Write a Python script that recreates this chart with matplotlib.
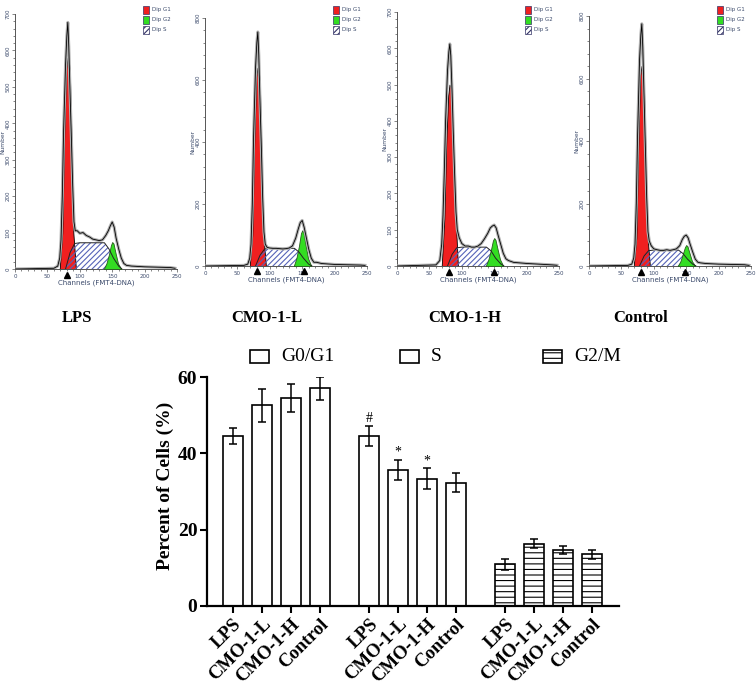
import matplotlib
matplotlib.use("Agg")
import matplotlib.pyplot as plt
from matplotlib.patches import Rectangle
from matplotlib.ticker import MultipleLocator

W, H = 756, 691

# ── flow cytometry histograms ───────────────────────────────────────────────
PANEL_NAMES = ["LPS", "CMO-1-L", "CMO-1-H", "Control"]
PANEL_YMAX = [700, 800, 700, 800]
PANEL_YSTEP = [100, 200, 100, 200]

TRACE_X = [0, 60, 66, 69, 71, 73, 75, 78, 80, 81.5,
           83, 85, 87, 89, 91, 93, 96, 100, 105, 110,
           115, 120, 125, 130, 135, 140, 144, 147, 150, 153,
           156, 160, 164, 168, 172, 180, 200, 220, 240, 247]
TRACE_Y = [
    [0, 2, 8, 30, 80, 200, 380, 560, 640, 677,
     610, 480, 360, 230, 130, 105, 105, 98, 100, 92,
     88, 82, 80, 78, 80, 92, 105, 118, 129, 115,
     85, 55, 30, 15, 10, 8, 6, 5, 4, 2],
    [0, 2, 6, 25, 70, 200, 420, 640, 720, 755,
     680, 520, 380, 220, 110, 70, 60, 58, 57, 57,
     56, 55, 56, 58, 65, 90, 120, 140, 147, 125,
     95, 55, 25, 12, 12, 8, 5, 4, 3, 2],
    [0, 3, 15, 60, 140, 260, 400, 540, 590, 612,
     580, 480, 360, 250, 150, 100, 78, 62, 55, 55,
     52, 52, 55, 62, 75, 90, 105, 110, 113, 105,
     85, 60, 35, 20, 15, 10, 7, 5, 3, 2],
    [0, 2, 6, 25, 70, 200, 420, 660, 740, 775,
     700, 540, 380, 220, 110, 80, 65, 55, 52, 50,
     50, 52, 50, 52, 55, 65, 85, 95, 99, 90,
     70, 45, 22, 12, 10, 8, 6, 5, 4, 2],
]

G1_X = [69, 73, 76, 79, 81, 82.5, 84.5, 87, 90, 94]
G1_Y = [
    [0, 100, 370, 550, 580, 575, 550, 370, 100, 0],
    [0, 100, 400, 610, 640, 635, 600, 380, 100, 0],
    [0, 130, 340, 470, 500, 495, 470, 350, 150, 0],
    [0, 90, 380, 610, 640, 635, 600, 380, 100, 0],
]

S_X = [78, 85, 92, 100, 120, 138, 145, 152, 160, 165]
S_Y = [
    [0, 45, 70, 72, 72, 72, 55, 30, 8, 0],
    [0, 35, 55, 57, 57, 57, 45, 25, 6, 0],
    [0, 32, 50, 52, 52, 52, 42, 22, 6, 0],
    [0, 32, 49, 51, 51, 51, 40, 22, 6, 0],
]

G2_X = [137, 141, 145, 148, 150, 152, 155, 159, 164]
G2_Y = [
    [0, 15, 40, 65, 74, 70, 45, 15, 0],
    [0, 25, 65, 105, 115, 108, 70, 25, 0],
    [0, 18, 45, 70, 77, 72, 48, 18, 0],
    [0, 15, 40, 60, 67, 63, 42, 15, 0],
]

PEAK_MARKS = [[81], [81, 153], [81, 150], [80, 148]]

# ── bar chart values ────────────────────────────────────────────────────────
PHASES = ["G0/G1", "S", "G2/M"]
TREATMENTS = ["LPS", "CMO-1-L", "CMO-1-H", "Control"]
G0G1_MEAN = [44.6, 52.6, 54.5, 57.0]
G0G1_ERR = [2.1, 4.3, 3.7, 3.0]
S_MEAN = [44.6, 35.6, 33.4, 32.3]
S_ERR = [2.6, 2.7, 2.7, 2.5]
G2M_MEAN = [10.9, 16.3, 14.7, 13.5]
G2M_ERR = [1.4, 1.2, 1.1, 1.1]
S_MARKS = ["#", "*", "*", ""]

SERIF = "Liberation Serif"
TXT = "#3b4a6b"
plt.rcParams["hatch.linewidth"] = 0.8


def rect(x0, y0, x1, y1):
    """pixel box (top-left origin) -> figure fraction rect"""
    return [x0 / W, 1 - y1 / H, (x1 - x0) / W, (y1 - y0) / H]


fig = plt.figure(figsize=(W / 100, H / 100), dpi=100)

hist_boxes = [(15, 14, 177, 269), (205, 18, 367, 266),
              (397, 12, 559, 266), (589, 16, 751, 266)]
label_x = [77, 267, 465, 641]

for k, box in enumerate(hist_boxes):
    ax = fig.add_axes(rect(*box))
    ax.fill_between(G1_X, G1_Y[k], facecolor="#f02020", edgecolor="black", lw=0.6, zorder=2)
    ax.fill_between(S_X, S_Y[k], facecolor="none", edgecolor="#5563b8", hatch="//////",
                    lw=0, zorder=3)
    ax.plot(S_X, S_Y[k], color="#222222", lw=0.7, zorder=4)
    ax.fill_between(G2_X, G2_Y[k], facecolor="#33dd22", edgecolor="#2a5a20", lw=0.6, zorder=3)
    ax.plot(TRACE_X, TRACE_Y[k], color="#b0b0b0", lw=2.2, zorder=5)
    ax.plot(TRACE_X, TRACE_Y[k], color="black", lw=0.6, zorder=6)
    ymax = PANEL_YMAX[k]
    ax.plot(PEAK_MARKS[k], [-ymax * 0.022] * len(PEAK_MARKS[k]), "^", color="black",
            ms=4, clip_on=False, zorder=7)
    ax.set_xlim(0, 250)
    ax.set_ylim(0, ymax)
    ax.xaxis.set_major_locator(MultipleLocator(50))
    ax.xaxis.set_minor_locator(MultipleLocator(10))
    ax.yaxis.set_major_locator(MultipleLocator(PANEL_YSTEP[k]))
    ax.yaxis.set_minor_locator(MultipleLocator(PANEL_YSTEP[k] / 5))
    ax.tick_params(which="both", direction="out", width=0.5, colors="#555555",
                   labelsize=4, labelcolor=TXT, pad=0.8)
    ax.tick_params(which="major", length=2.5)
    ax.tick_params(which="minor", length=1.5)
    for t in ax.get_yticklabels():
        t.set_rotation(90)
        t.set_va("center")
    for s in ("top", "right"):
        ax.spines[s].set_visible(False)
    for s in ("left", "bottom"):
        ax.spines[s].set_color("#555555")
        ax.spines[s].set_linewidth(0.7)
    ax.set_xlabel("Channels (FMT4-DNA)", fontsize=5, color=TXT, labelpad=1)
    ax.set_ylabel("Number", fontsize=4.3, color=TXT)
    ax.yaxis.set_label_coords(-0.06, 0.5)

    # small legend at the top right of each histogram
    lx, ly = box[2] - 34, 5
    items = [("#f02020", "", "Dip G1"), ("#33dd22", "", "Dip G2"), ("white", "//////", "Dip S")]
    for j, (fc, hatch, name) in enumerate(items):
        fig.add_artist(Rectangle((lx / W, 1 - (ly + 10 * j + 9) / H), 6 / W, 8 / H,
                                 transform=fig.transFigure, facecolor=fc, hatch=hatch,
                                 edgecolor="#333366", lw=0.5))
        fig.text((lx + 9) / W, 1 - (ly + 10 * j + 5) / H, name, fontsize=4, color=TXT,
                 va="center", ha="left")

    fig.text(label_x[k] / W, 1 - 318 / H, PANEL_NAMES[k], fontsize=12, fontweight="bold",
             family=SERIF, ha="center", va="center")

# ── bar chart ───────────────────────────────────────────────────────────────
ax = fig.add_axes(rect(207, 377, 619, 606))
group_gap = 4.69
series = [(G0G1_MEAN, G0G1_ERR, ""), (S_MEAN, S_ERR, ""), (G2M_MEAN, G2M_ERR, "---")]
xticks = []
for g, (mean, err, hatch) in enumerate(series):
    xs = [i + g * group_gap for i in range(len(TREATMENTS))]
    xticks += xs
    ax.bar(xs, mean, width=0.69, color="white", edgecolor="black", lw=1.2, hatch=hatch,
           zorder=2)
    ax.errorbar(xs, mean, yerr=err, fmt="none", ecolor="black", elinewidth=1.1,
                capsize=3.2, capthick=1.1, zorder=3)
    if g == 1:
        for x, m, e, mark in zip(xs, mean, err, S_MARKS):
            if mark:
                ax.text(x, m + e + 0.3, mark, ha="center", va="bottom", fontsize=10,
                        family=SERIF)

ax.set_xlim(-0.9, 13.3)
ax.set_ylim(0, 60)
ax.set_yticks([0, 20, 40, 60])
ax.set_xticks(xticks)
ax.set_xticklabels(TREATMENTS * 3, rotation=45, ha="right", rotation_mode="anchor",
                   fontsize=13.5, fontweight="bold", family=SERIF)
for t in ax.get_yticklabels():
    t.set_fontsize(14)
    t.set_fontweight("bold")
    t.set_family(SERIF)
ax.tick_params(axis="both", direction="out", width=1.5, length=5, pad=2)
for s in ("top", "right"):
    ax.spines[s].set_visible(False)
for s in ("left", "bottom"):
    ax.spines[s].set_linewidth(1.6)

fig.text(165 / W, 1 - 486 / H, "Percent of Cells (%)", rotation=90, ha="center",
         va="center", fontsize=14, fontweight="bold", family=SERIF)

# legend row
leg_x = [250, 400, 543]
for x0, name, hatch in zip(leg_x, PHASES, ["", "", "---"]):
    fig.add_artist(Rectangle((x0 / W, 1 - 363 / H), 19 / W, 13 / H,
                             transform=fig.transFigure, facecolor="white",
                             edgecolor="black", lw=1.2, hatch=hatch))
    fig.text((x0 + 31) / W, 1 - 357 / H, name, fontsize=14, family=SERIF,
             ha="left", va="center")

fig.savefig("out.png", dpi=100)
